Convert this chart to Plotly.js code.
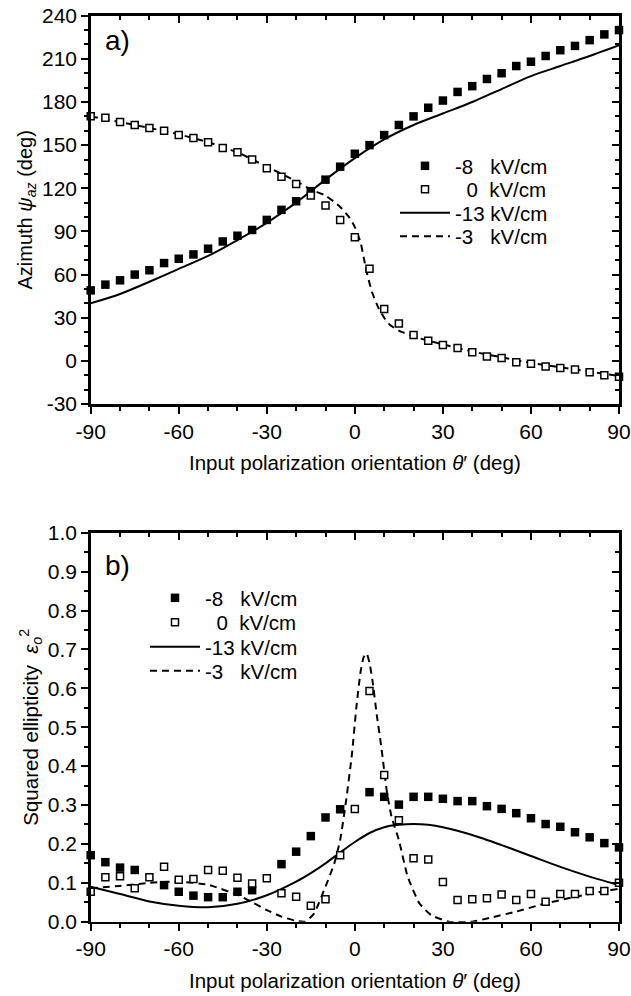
<!DOCTYPE html>
<html>
<head>
<meta charset="utf-8">
<script src="https://cdn.plot.ly/plotly-3.0.1.min.js"></script>
<style>html,body{margin:0;padding:0;background:#fff;}#chart{width:631px;height:996px;}</style>
</head>
<body>
<div id="chart"></div>
<script>
// ---------- DATA ----------
// measured points: input polarization orientation (deg)
const theta = [-90,-85,-80,-75,-70,-65,-60,-55,-50,-45,-40,-35,-30,-25,-20,-15,-10,-5,0,5,10,15,20,25,30,35,40,45,50,55,60,65,70,75,80,85,90];

// (a) azimuth (deg)
const azim_m8 = [49,53,56,60,63,68,71,74,78,83,87,91,98,105,111,118,126,135,144,150,157,164,170,176,181,187,191,196,200,205,208,212,216,219,223,227,230];
const azim_0  = [170,169,166,164,162,160,157,155,152,148,145,140,134,128,123,115,108,98,86,64,36,26,18,14,11,9,6,3,2,-1,-2,-4,-5,-6,-8,-10,-11];
// model curves (a)
const azimLineX_m13 = [-90,-80,-70,-60,-50,-40,-30,-20,-10,0,10,20,30,40,50,60,70,80,90];
const azim_m13      = [40,46.5,55,64,73,84,96,110,126,141,154,164,172,180,189,198,205,212,219.5];
const azimLineX_m3  = [-90,-80,-70,-60,-50,-40,-30,-20,-15,-10,-5,-2,0,2,3,4,5,6,8,10,12,15,20,25,30,40,50,60,70,80,90];
const azim_m3       = [170,166,162,157.5,152,145,135,125,119,115,107,100,93,82,72,62,54,47,37,30,25,21,17,14,11.5,6.5,2.5,-1.5,-4.5,-7.5,-10.5];

// (b) squared ellipticity
const ell_m8 = [0.171,0.153,0.139,0.133,null,0.094,0.077,0.067,0.063,0.063,0.077,0.081,null,0.148,0.180,0.220,0.268,0.289,null,0.333,0.321,0.301,0.321,0.321,0.316,0.310,0.310,0.297,0.290,0.279,0.266,0.251,0.244,0.230,0.217,0.202,0.191];
const ell_0  = [0.077,0.114,0.117,0.086,0.114,0.141,0.108,0.110,0.133,0.131,0.113,0.098,0.112,0.073,0.064,0.041,0.058,0.171,0.290,0.593,0.377,0.261,0.163,0.160,0.102,0.056,0.058,0.060,0.070,0.056,0.071,0.051,0.071,0.071,0.079,0.079,0.100];
const ellLineX_m13 = [-90,-80,-70,-60,-50,-40,-30,-20,-15,-10,-5,0,5,10,15,20,25,30,40,50,60,70,80,90];
const ell_m13      = [0.090,0.071,0.052,0.041,0.037,0.046,0.068,0.103,0.125,0.150,0.178,0.205,0.228,0.243,0.249,0.251,0.249,0.243,0.223,0.197,0.169,0.141,0.116,0.094];
const ellLineX_m3  = [-90,-80,-70,-60,-50,-40,-35,-30,-25,-20,-17,-14,-10,-7,-5,-3,-1,0.5,2,3,4,5,6,7.5,9,11,12.5,15,18,22,26,32,40,46,55,64,75,90];
const ell_m3       = [0.086,0.092,0.100,0.103,0.095,0.069,0.050,0.030,0.013,0.002,0.0,0.02,0.09,0.15,0.21,0.31,0.43,0.55,0.645,0.68,0.69,0.665,0.62,0.53,0.45,0.33,0.27,0.21,0.116,0.047,0.017,0.0,0.0,0.01,0.026,0.045,0.064,0.085];

// legend labels and tick labels
const names = ['-8\u00a0\u00a0\u00a0kV/cm', '\u00a0\u00a00\u00a0\u00a0kV/cm', '-13 kV/cm', '-3\u00a0\u00a0\u00a0kV/cm'];
const xTickVals = [-90,-60,-30,0,30,60,90];
const xTickText = ['-90','-60','-30','0','30','60','90'];
const yATickVals = [-30,0,30,60,90,120,150,180,210,240];
const yATickText = ['-30','0','30','60','90','120','150','180','210','240'];
const yBTickVals = [0,0.1,0.2,0.3,0.4,0.5,0.6,0.7,0.8,0.9,1.0];
const yBTickText = ['0.0','0.1','0.2','0.3','0.4','0.5','0.6','0.7','0.8','0.9','1.0'];

// ---------- STYLE ----------
const FONT = 'Liberation Sans, Arial, sans-serif';
const W = 631, H = 996;
const xDom = [90.7/W, 619/W];
const yDomA = [(H-404)/H, (H-15.7)/H];
const yDomB = [(H-921.7)/H, (H-532.7)/H];

function filled(x, y, xa, ya, leg) {
  return {x, y, xaxis:xa, yaxis:ya, legend:leg, name:names[0], type:'scatter', mode:'markers',
    marker:{symbol:'square', size:8.5, color:'#000', line:{width:0}}, cliponaxis:false};
}
function openSq(x, y, xa, ya, leg) {
  return {x, y, xaxis:xa, yaxis:ya, legend:leg, name:names[1], type:'scatter', mode:'markers',
    marker:{symbol:'square', size:7, color:'#fff', line:{width:1.5, color:'#000'}}, cliponaxis:false};
}
function solid(x, y, xa, ya, leg) {
  return {x, y, xaxis:xa, yaxis:ya, legend:leg, name:names[2], type:'scatter', mode:'lines',
    line:{color:'#000', width:2, shape:'spline', smoothing:0.8}};
}
function dashed(x, y, xa, ya, leg) {
  return {x, y, xaxis:xa, yaxis:ya, legend:leg, name:names[3], type:'scatter', mode:'lines',
    line:{color:'#000', width:2, dash:'7px,5px', shape:'spline', smoothing:0.5}};
}
function dummy(xa, ya) {
  return {x:[null], y:[null], xaxis:xa, yaxis:ya, showlegend:false, hoverinfo:'skip', mode:'markers'};
}

const traces = [
  solid(azimLineX_m13, azim_m13, 'x', 'y', 'legend5'),
  dashed(azimLineX_m3, azim_m3, 'x', 'y', 'legend7'),
  filled(theta, azim_m8, 'x', 'y', 'legend'),
  openSq(theta, azim_0, 'x', 'y', 'legend3'),
  solid(ellLineX_m13, ell_m13, 'x2', 'y2', 'legend6'),
  dashed(ellLineX_m3, ell_m3, 'x2', 'y2', 'legend8'),
  filled(theta, ell_m8, 'x2', 'y2', 'legend2'),
  openSq(theta, ell_0, 'x2', 'y2', 'legend4'),
  dummy('x3', 'y3'),
  dummy('x4', 'y4')
];

function ax(extra, inside) {
  return Object.assign({
    showline:true, linewidth:2.5, linecolor:'#000',
    ticks: inside ? 'inside' : 'outside', ticklen:7, tickwidth:2, tickcolor:'#000',
    showgrid:false, zeroline:false, fixedrange:true,
    tickfont:{family:FONT, size:21, color:'#000'},
    showticklabels: !inside,
    tickmode:'array'
  }, extra);
}
function mnr(dt, t0, inside) {
  return {dtick:dt, tick0:t0, ticks: inside ? 'inside' : 'outside', ticklen:4, tickwidth:2, tickcolor:'#000', showgrid:false};
}

const xTitle = {text:'Input polarization orientation <i>θ</i>′ (deg)', font:{family:FONT, size:20.5, color:'#000'}, standoff:14};

function leg(xpx, ypx) {
  return {x:xpx/W, y:(H-ypx)/H, xanchor:'left', yanchor:'middle', bgcolor:'rgba(0,0,0,0)', borderwidth:0,
    font:{family:FONT, size:20.5, color:'#000'}, itemwidth:50};
}

const layout = {
  width:W, height:H, margin:{l:0, r:0, t:0, b:0},
  paper_bgcolor:'#fff', plot_bgcolor:'rgba(0,0,0,0)',
  font:{family:FONT, color:'#000'},
  xaxis: ax({domain:xDom, anchor:'y', range:[-90,90], tickvals:xTickVals, ticktext:xTickText, minor:mnr(10,-90,false), title:xTitle}, false),
  yaxis: ax({domain:yDomA, anchor:'x', range:[-30,240], tickvals:yATickVals, ticktext:yATickText, minor:mnr(10,0,false),
    title:{text:'Azimuth <i>ψ</i><sub><i>az</i></sub> (deg)', font:{family:FONT, size:20, color:'#000'}, standoff:4}}, false),
  xaxis3: ax({domain:xDom, overlaying:'x', anchor:'y3', side:'top', range:[-90,90], tickvals:xTickVals, minor:mnr(10,-90,true)}, true),
  yaxis3: ax({domain:yDomA, overlaying:'y', anchor:'x3', side:'right', range:[-30,240], tickvals:yATickVals, minor:mnr(10,0,true)}, true),

  xaxis2: ax({domain:xDom, anchor:'y2', range:[-90,90], tickvals:xTickVals, ticktext:xTickText, minor:mnr(10,-90,false), title:xTitle}, false),
  yaxis2: ax({domain:yDomB, anchor:'x2', range:[0,1], tickvals:yBTickVals, ticktext:yBTickText, minor:mnr(0.05,0,false),
    title:{text:'Squared ellipticity  <i>ε</i><sub><i>o</i></sub><sup>2</sup>', font:{family:FONT, size:20.5, color:'#000'}, standoff:4}}, false),
  xaxis4: ax({domain:xDom, overlaying:'x2', anchor:'y4', side:'top', range:[-90,90], tickvals:xTickVals, minor:mnr(10,-90,true)}, true),
  yaxis4: ax({domain:yDomB, overlaying:'y2', anchor:'x4', side:'right', range:[0,1], tickvals:yBTickVals, minor:mnr(0.05,0,true)}, true),

  legend:  leg(395, 166),
  legend3: leg(395, 189.5),
  legend5: leg(395, 213),
  legend7: leg(395, 236.5),
  legend2: leg(145, 598),
  legend4: leg(145, 622.5),
  legend6: leg(145, 647),
  legend8: leg(145, 671),

  annotations: [
    {text:'a)', xref:'x domain', yref:'y domain', x:0.024, y:0.98, xanchor:'left', yanchor:'top', showarrow:false, font:{family:FONT, size:28, color:'#000'}},
    {text:'b)', xref:'x2 domain', yref:'y2 domain', x:0.024, y:0.96, xanchor:'left', yanchor:'top', showarrow:false, font:{family:FONT, size:28, color:'#000'}}
  ],
  showlegend:true
};

Plotly.newPlot('chart', traces, layout, {staticPlot:true, displayModeBar:false});
</script>
</body>
</html>
